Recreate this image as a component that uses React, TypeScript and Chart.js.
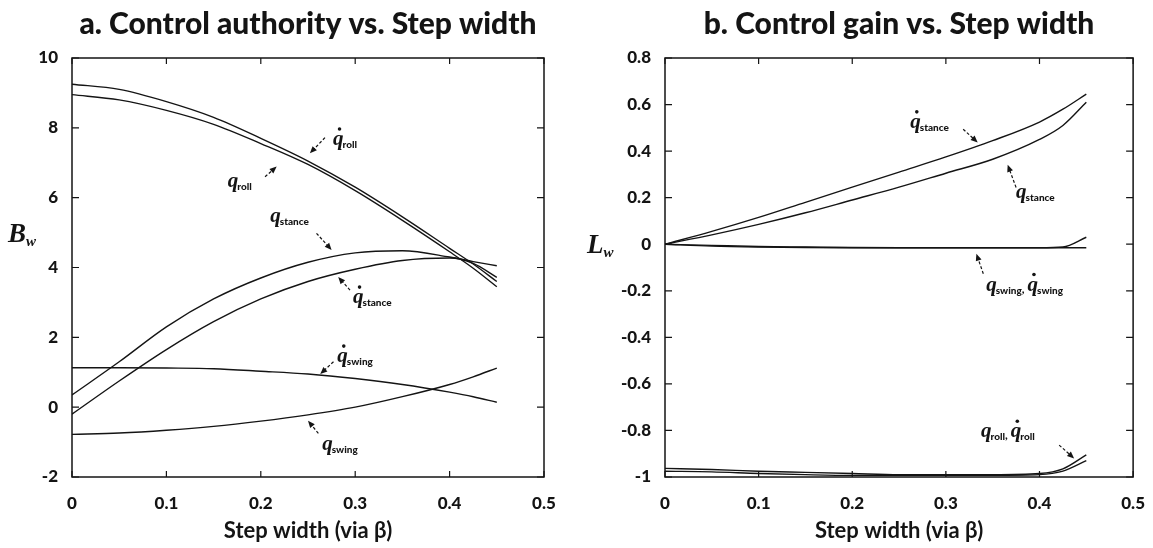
import React, { useEffect, useRef } from 'react';
import { Chart, registerables } from 'chart.js';

Chart.register(...registerables);

// ---------- data ----------
const stepWidth = [0, 0.05, 0.1, 0.15, 0.2, 0.25, 0.3, 0.35, 0.4, 0.425, 0.45];

// a. Control authority B_w
const authQDotRoll = [9.25, 9.1, 8.75, 8.3, 7.7, 7.05, 6.3, 5.45, 4.55, 4.1, 3.6];
const authQRoll = [8.95, 8.8, 8.5, 8.1, 7.55, 6.95, 6.2, 5.35, 4.45, 3.98, 3.45];
const authQStance = [0.35, 1.3, 2.3, 3.1, 3.7, 4.15, 4.42, 4.48, 4.3, 4.17, 4.05];
const authQDotStance = [-0.2, 0.75, 1.65, 2.45, 3.1, 3.6, 3.95, 4.2, 4.27, 4.12, 3.72];
const authQDotSwing = [1.13, 1.13, 1.12, 1.1, 1.03, 0.95, 0.82, 0.65, 0.43, 0.3, 0.14];
const authQSwing = [-0.78, -0.74, -0.66, -0.55, -0.4, -0.22, 0.0, 0.3, 0.65, 0.87, 1.12];

// b. Control gain L_w
const gainQDotStance = [0, 0.055, 0.115, 0.18, 0.245, 0.31, 0.375, 0.445, 0.525, 0.58, 0.645];
const gainQStance = [0, 0.04, 0.085, 0.135, 0.19, 0.245, 0.305, 0.365, 0.45, 0.51, 0.61];
const gainQSwing = [0, -0.005, -0.01, -0.012, -0.014, -0.015, -0.015, -0.015, -0.015, -0.012, 0.03];
const gainQDotSwing = [0, -0.008, -0.012, -0.014, -0.015, -0.015, -0.015, -0.015, -0.015, -0.015, -0.015];
const gainQRoll = [-0.963, -0.968, -0.975, -0.98, -0.985, -0.99, -0.99, -0.99, -0.985, -0.965, -0.905];
const gainQDotRoll = [-0.975, -0.978, -0.985, -0.99, -0.993, -0.993, -0.993, -0.993, -0.99, -0.975, -0.93];

// axis ranges / tick labels
const xTickValues = [0, 0.1, 0.2, 0.3, 0.4, 0.5];
const authTickValues = [-2, 0, 2, 4, 6, 8, 10];
const gainTickValues = [-1, -0.8, -0.6, -0.4, -0.2, 0, 0.2, 0.4, 0.6, 0.8];

const titleA = 'a. Control authority vs. Step width';
const titleB = 'b. Control gain vs. Step width';
const xTitle = 'Step width (via β)';

// annotations: label anchor (data coords) + arrow from/to (data coords)
type Note = { parts: { dot: boolean; sub: string }[]; lx: number; ly: number; fx: number; fy: number; tx: number; ty: number };
const notesA: Note[] = [
  { parts: [{ dot: true, sub: 'roll' }], lx: 0.2765, ly: 7.51, fx: 0.268, fy: 7.72, tx: 0.252, ty: 7.27 },
  { parts: [{ dot: false, sub: 'roll' }], lx: 0.165, ly: 6.3, fx: 0.2045, fy: 6.6, tx: 0.2168, ty: 6.89 },
  { parts: [{ dot: false, sub: 'stance' }], lx: 0.21, ly: 5.3, fx: 0.259, fy: 4.98, tx: 0.275, ty: 4.5 },
  { parts: [{ dot: true, sub: 'stance' }], lx: 0.2977, ly: 2.98, fx: 0.2945, fy: 3.35, tx: 0.282, ty: 3.73 },
  { parts: [{ dot: true, sub: 'swing' }], lx: 0.281, ly: 1.29, fx: 0.277, fy: 1.3, tx: 0.263, ty: 0.95 },
  { parts: [{ dot: false, sub: 'swing' }], lx: 0.265, ly: -1.23, fx: 0.261, fy: -0.75, tx: 0.25, ty: -0.39 },
];
const notesB: Note[] = [
  { parts: [{ dot: true, sub: 'stance' }], lx: 0.262, ly: 0.5, fx: 0.3185, fy: 0.494, tx: 0.334, ty: 0.437 },
  { parts: [{ dot: false, sub: 'stance' }], lx: 0.375, ly: 0.2, fx: 0.375, fy: 0.244, tx: 0.366, ty: 0.341 },
  { parts: [{ dot: false, sub: 'swing' }, { dot: true, sub: 'swing' }], lx: 0.343, ly: -0.199, fx: 0.34, fy: -0.127, tx: 0.3326, ty: -0.041 },
  { parts: [{ dot: false, sub: 'roll' }, { dot: true, sub: 'roll' }], lx: 0.3376, ly: -0.829, fx: 0.421, fy: -0.863, tx: 0.437, ty: -0.92 },
];

const INK = '#141414';

function drawQ(ctx: CanvasRenderingContext2D, x: number, y: number, dot: boolean, sub: string) {
  ctx.font = 'italic bold 21px "Liberation Serif"';
  ctx.textAlign = 'left';
  ctx.textBaseline = 'alphabetic';
  ctx.fillText('q', x, y);
  const w = ctx.measureText('q').width;
  if (dot) {
    ctx.beginPath();
    ctx.arc(x + w * 0.62, y - 16, 1.8, 0, Math.PI * 2);
    ctx.fill();
  }
  ctx.font = '900 10px Lato';
  ctx.fillText(sub, x + w - 1, y + 3);
  return x + w - 1 + ctx.measureText(sub).width;
}

function drawArrow(ctx: CanvasRenderingContext2D, x1: number, y1: number, x2: number, y2: number) {
  const ang = Math.atan2(y2 - y1, x2 - x1);
  const L = 7;
  const c = Math.cos(ang), s = Math.sin(ang);
  ctx.lineWidth = 1.2;
  ctx.setLineDash([3, 2]);
  ctx.beginPath();
  ctx.moveTo(x1, y1);
  ctx.lineTo(x2 - L * c * 0.8, y2 - L * s * 0.8);
  ctx.stroke();
  ctx.setLineDash([]);
  ctx.beginPath();
  ctx.moveTo(x2, y2);
  ctx.lineTo(x2 - L * c + 3 * s, y2 - L * s - 3 * c);
  ctx.lineTo(x2 - L * c - 3 * s, y2 - L * s + 3 * c);
  ctx.closePath();
  ctx.fill();
}

function makePlugin(notes: Note[], yLetter: string, yTitlePos: { x: number; y: number }) {
  return {
    id: 'frameAndNotes',
    afterDatasetsDraw(chart: any) {
      const { ctx, chartArea: a, scales } = chart;
      const xs = scales.x, ys = scales.y;
      ctx.save();
      ctx.strokeStyle = INK;
      ctx.fillStyle = INK;
      ctx.lineWidth = 1.5;
      ctx.strokeRect(a.left, a.top, a.right - a.left, a.bottom - a.top);
      ctx.lineWidth = 1.2;
      ctx.beginPath();
      for (const t of xs.ticks) {
        const px = xs.getPixelForValue(t.value);
        ctx.moveTo(px, a.bottom); ctx.lineTo(px, a.bottom - 6);
        ctx.moveTo(px, a.top); ctx.lineTo(px, a.top + 6);
      }
      for (const t of ys.ticks) {
        const py = ys.getPixelForValue(t.value);
        ctx.moveTo(a.left, py); ctx.lineTo(a.left + 7, py);
        ctx.moveTo(a.right, py); ctx.lineTo(a.right - 7, py);
      }
      ctx.stroke();
      for (const n of notes) {
        let x = xs.getPixelForValue(n.lx);
        const y = ys.getPixelForValue(n.ly);
        n.parts.forEach((p, i) => {
          if (i > 0) {
            ctx.font = 'bold 12px Lato';
            ctx.fillText(',', x, y + 2);
            x += ctx.measureText(', ').width;
          }
          x = drawQ(ctx, x, y, p.dot, p.sub);
        });
        drawArrow(ctx, xs.getPixelForValue(n.fx), ys.getPixelForValue(n.fy), xs.getPixelForValue(n.tx), ys.getPixelForValue(n.ty));
      }
      // horizontal y-axis title
      ctx.font = 'italic bold 27px "Liberation Serif"';
      ctx.textAlign = 'left';
      ctx.textBaseline = 'alphabetic';
      ctx.fillText(yLetter, yTitlePos.x, yTitlePos.y);
      const w = ctx.measureText(yLetter).width;
      ctx.font = 'italic bold 15px "Liberation Serif"';
      ctx.fillText('w', yTitlePos.x + w, yTitlePos.y + 4);
      ctx.restore();
    },
  };
}

function fmt(v: number) {
  return String(Number(v.toFixed(2)));
}

function line(xsArr: number[], ysArr: number[]) {
  return {
    data: xsArr.map((x, i) => ({ x, y: ysArr[i] })),
    borderColor: INK,
    borderWidth: 1.4,
    pointRadius: 0,
    fill: false,
    cubicInterpolationMode: 'monotone' as const,
  };
}

function makeConfig(opts: {
  series: number[][];
  yTicks: number[];
  title: string;
  padRight: number;
  yWidth: number;
  plugin: any;
}) {
  const yMin = opts.yTicks[0];
  const yMax = opts.yTicks[opts.yTicks.length - 1];
  return {
    type: 'line' as const,
    data: { datasets: opts.series.map((s) => line(stepWidth, s)) },
    options: {
      responsive: false,
      animation: false,
      layout: { padding: { top: 0, right: opts.padRight, bottom: 0, left: 0 } },
      plugins: {
        legend: { display: false },
        tooltip: { enabled: false },
        title: {
          display: true,
          text: opts.title,
          fullSize: false,
          color: INK,
          font: { family: 'Lato', size: 30, weight: '900' },
          padding: { top: 6, bottom: 16 },
        },
      },
      scales: {
        x: {
          type: 'linear',
          min: xTickValues[0],
          max: xTickValues[xTickValues.length - 1],
          afterBuildTicks: (s: any) => { s.ticks = xTickValues.map((v) => ({ value: v })); },
          ticks: { callback: (v: number) => fmt(v), color: INK, font: { family: 'Lato', size: 17, weight: '900' }, padding: 8, maxRotation: 0 },
          grid: { display: false },
          border: { display: false },
          title: { display: true, text: xTitle, color: INK, font: { family: 'Lato', size: 22, weight: 'bold' }, padding: { top: 0, bottom: 4 } },
          afterFit: (s: any) => { s.height = 71; },
        },
        y: {
          type: 'linear',
          min: yMin,
          max: yMax,
          afterBuildTicks: (s: any) => { s.ticks = opts.yTicks.map((v) => ({ value: v })); },
          ticks: { callback: (v: number) => fmt(v), color: INK, font: { family: 'Lato', size: 17, weight: '900' }, padding: 6 },
          grid: { display: false },
          border: { display: false },
          afterFit: (s: any) => { s.width = opts.yWidth; },
        },
      },
    },
    plugins: [opts.plugin],
  };
}

export default function App() {
  const refA = useRef<HTMLCanvasElement>(null);
  const refB = useRef<HTMLCanvasElement>(null);

  useEffect(() => {
    document.body.style.margin = '0';
    const cA = new Chart(refA.current!, makeConfig({
      series: [authQDotRoll, authQRoll, authQStance, authQDotStance, authQDotSwing, authQSwing],
      yTicks: authTickValues,
      title: titleA,
      padRight: 32,
      yWidth: 72,
      plugin: makePlugin(notesA, 'B', { x: 8, y: 242 }),
    }) as any);
    const cB = new Chart(refB.current!, makeConfig({
      series: [gainQDotStance, gainQStance, gainQSwing, gainQDotSwing, gainQRoll, gainQDotRoll],
      yTicks: gainTickValues,
      title: titleB,
      padRight: 17,
      yWidth: 89,
      plugin: makePlugin(notesB, 'L', { x: 11, y: 253 }),
    }) as any);
    return () => { cA.destroy(); cB.destroy(); };
  }, []);

  return (
    <div style={{ position: 'absolute', left: 0, top: 0, width: 1153, height: 548, background: '#fff' }}>
      <canvas ref={refA} width={576} height={548} style={{ position: 'absolute', left: 0, top: 0, width: 576, height: 548 }} />
      <canvas ref={refB} width={577} height={548} style={{ position: 'absolute', left: 576, top: 0, width: 577, height: 548 }} />
    </div>
  );
}
